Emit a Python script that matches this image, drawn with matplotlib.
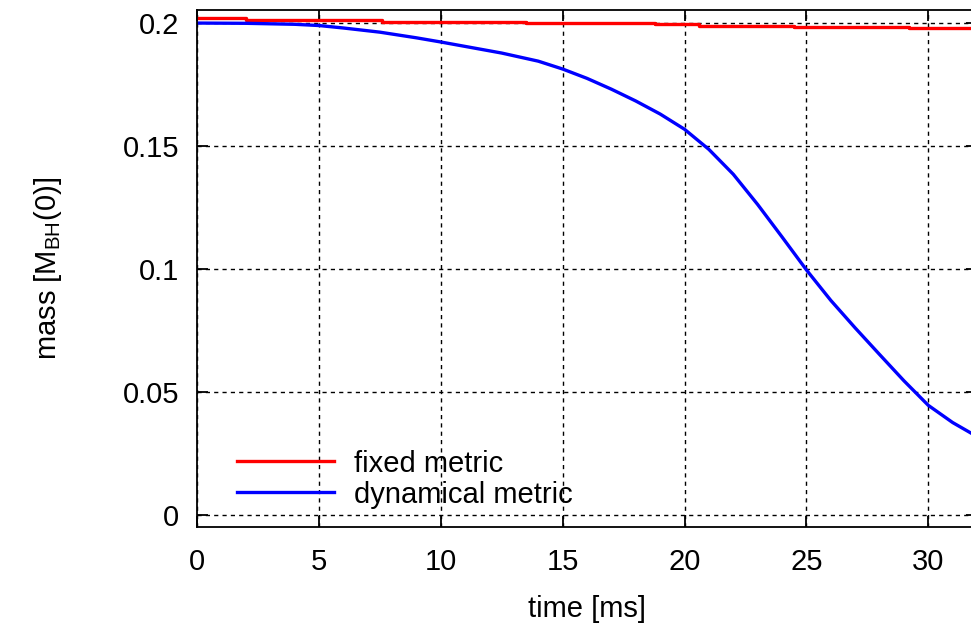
import numpy as np
import matplotlib
matplotlib.use("Agg")
import matplotlib.pyplot as plt

plt.rcParams['font.family'] = ['Liberation Sans', 'DejaVu Sans']
plt.rcParams['mathtext.default'] = 'regular'

# fixed metric (steps)
t_fixed = [0, 2.0, 7.6, 13.5, 18.8, 20.6, 24.5, 29.2, 32]
m_fixed = [0.2020, 0.2012, 0.2006, 0.2001, 0.1996, 0.1990, 0.1985, 0.1978, 0.1978]

# dynamical metric
t_dyn = [0, 2, 4, 5, 6, 7.5, 9, 10, 11, 12.5, 14, 15, 16, 17, 18, 19, 20, 21,
         22, 23, 24, 25, 26, 27, 28, 29, 30, 31, 32]
m_dyn = [0.2000, 0.1999, 0.1995, 0.1990, 0.1980, 0.1963, 0.1940, 0.1923, 0.1905,
         0.1878, 0.1845, 0.1813, 0.1775, 0.1731, 0.1683, 0.1630, 0.1568, 0.1486,
         0.1385, 0.1262, 0.1130, 0.0996, 0.0872, 0.0760, 0.0652, 0.0545, 0.0445,
         0.0375, 0.0318]

fig = plt.figure(figsize=(9.71, 6.31), dpi=100)
ax = fig.add_axes([0.2029, 0.1648, 0.8033, 0.8193])

ax.plot(t_fixed, m_fixed, color='#ff0000', lw=2.4, drawstyle='steps-post', label='fixed metric')
ax.plot(t_dyn, m_dyn, color='#0000ff', lw=2.4, label='dynamical metric')

ax.set_xlim(0, 32)
ax.set_ylim(-0.005, 0.2053)
ax.set_xticks([0, 5, 10, 15, 20, 25, 30])
ax.set_yticks([0, 0.05, 0.1, 0.15, 0.2])
ax.set_yticklabels(['0', '0.05', '0.1', '0.15', '0.2'])

ax.grid(True, color='black', linestyle=(0, (3, 3)), linewidth=1.0)
ax.set_axisbelow(True)
ax.tick_params(direction='in', length=8, width=1.3, labelsize=21,
               top=True, right=True)
ax.tick_params(axis='x', pad=15)
ax.tick_params(axis='y', pad=13)
for s in ax.spines.values():
    s.set_linewidth(1.3)

ax.set_xlabel('time [ms]', fontsize=21, labelpad=14)
ax.set_ylabel('mass [M$_{BH}$(0)]', fontsize=21, labelpad=42)

ax.legend(loc='lower left', bbox_to_anchor=(0.018, -0.015), frameon=False,
          fontsize=21, handlelength=3.3, handletextpad=0.7, labelspacing=0.1)

fig.savefig('out.png', dpi=100)
